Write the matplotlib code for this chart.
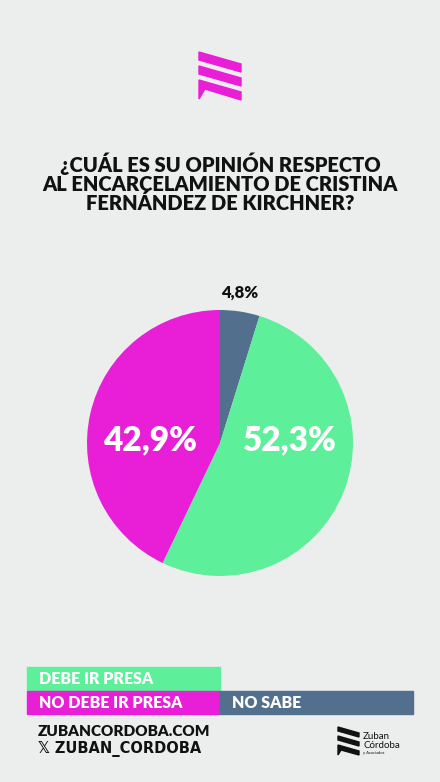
import matplotlib.pyplot as plt
from matplotlib.patches import Rectangle, Polygon

labels = ["NO SABE", "DEBE IR PRESA", "NO DEBE IR PRESA"]
values = [4.8, 52.3, 42.9]
colors = ["#52708E", "#5EEF9B", "#E81FD6"]

BG = "#ECEEEE"
FONT = ["Lato", "DejaVu Sans"]

fig = plt.figure(figsize=(4.4, 7.82), dpi=100, facecolor=BG)
bg = fig.add_axes([0, 0, 1, 1])
bg.set_xlim(0, 440)
bg.set_ylim(782, 0)
bg.axis("off")

# logo
mag = colors[2]
for y0 in (52, 66):
    bg.add_patch(Polygon([(199, y0), (241, y0 + 12), (241, y0 + 20), (199, y0 + 8)], color=mag))
bg.add_patch(Polygon([(199, 80), (241, 92), (241, 100), (205, 89), (199, 99)], color=mag))

title = "¿CUÁL ES SU OPINIÓN RESPECTO\nAL ENCARCELAMIENTO DE CRISTINA\nFERNÁNDEZ DE KIRCHNER?"
bg.text(220, 183, title, ha="center", va="center", fontsize=14.5, fontweight="heavy",
        family=FONT, color="#111111", linespacing=1.0)

# pie
r = 133
cx, cy = 220, 443
pax = fig.add_axes([(cx - r) / 440, 1 - (cy + r) / 782, 2 * r / 440, 2 * r / 782])
pax.pie(values, colors=colors, startangle=90, counterclock=False,
        wedgeprops=dict(linewidth=0), frame=False)
pax.set_aspect("auto")
pax.set_xlim(-1, 1)
pax.set_ylim(-1, 1)
pax.axis("off")

def to_pie(px, py):
    return (px - cx) / r, (cy - py) / r

for (px, py), v in (((290, 440), values[1]), ((150, 440), values[2])):
    x, y = to_pie(px, py)
    pax.text(x, y, f"{v:.1f}%".replace(".", ","), ha="center", va="center",
             fontsize=24, fontweight="heavy", family=FONT, color="white")

bg.text(240, 293, "4,8%", ha="center", va="center", fontsize=12, fontweight="heavy",
        family=FONT, color="#111111")

# legend
boxes = [(27, 667, colors[1], labels[1]), (27, 691, colors[2], labels[2]),
         (220, 691, colors[0], labels[0])]
for x, y, c, t in boxes:
    bg.add_patch(Rectangle((x, y), 193, 23, color=c))
    bg.text(x + 12, y + 12, t, ha="left", va="center", fontsize=11.5,
            fontweight="heavy", family=FONT, color="white")

bg.text(38, 731, "ZUBANCORDOBA.COM", ha="left", va="center", fontsize=11,
        fontweight="heavy", family=FONT, color="#111111")
bg.text(38, 749, "\U0001D54F ZUBAN_CORDOBA", ha="left", va="center", fontsize=10.5,
        fontweight="heavy", family=["DejaVu Sans"], color="#111111")

# small bottom-right logo
for y0 in (727, 736):
    bg.add_patch(Polygon([(338, y0), (359, y0 + 6), (359, y0 + 10), (338, y0 + 4)], color="#111111"))
bg.add_patch(Polygon([(338, 745), (359, 751), (359, 755), (341, 750), (338, 755)], color="#111111"))
bg.text(363, 741, "Zuban\nCórdoba", ha="left", va="center", fontsize=7,
        family=FONT, color="#111111", linespacing=0.95)
bg.text(363, 753, "y Asociados", ha="left", va="center", fontsize=3,
        family=FONT, color="#111111")

fig.savefig("out.png", dpi=100, facecolor=BG)
